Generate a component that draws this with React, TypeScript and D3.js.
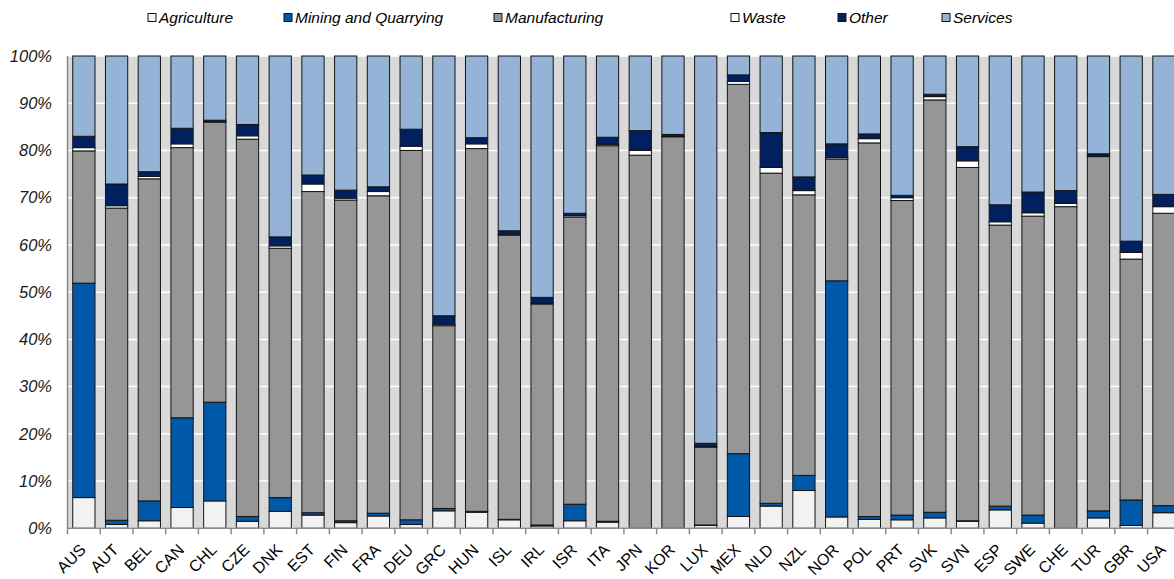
import React from "react";
import * as d3 from "d3";

const countries = ["AUS","AUT","BEL","CAN","CHL","CZE","DNK","EST","FIN","FRA","DEU","GRC","HUN","ISL","IRL","ISR","ITA","JPN","KOR","LUX","MEX","NLD","NZL","NOR","POL","PRT","SVK","SVN","ESP","SWE","CHE","TUR","GBR","USA"];

const agriculture = [6.5,0.8,1.6,4.4,5.8,1.5,3.6,2.8,1.2,2.6,0.8,3.7,3.4,1.8,0.5,1.6,1.3,0,0,0.6,2.5,4.7,8.0,2.4,1.9,1.8,2.2,1.5,3.9,1.1,0,2.2,0.6,3.3];
const mining = [45.4,0.9,4.2,19.0,20.9,1.0,2.9,0.5,0.4,0.6,1.0,0.5,0.2,0.1,0.2,3.5,0.2,0,0,0.1,13.3,0.6,3.2,50.0,0.6,1.0,1.2,0.1,0.8,1.7,0,1.5,5.4,1.5];
const manufacturing = [28.0,66.1,68.2,57.2,59.3,79.9,52.8,68.0,67.9,67.2,78.2,38.7,76.8,60.2,46.8,60.8,79.5,79.0,82.9,16.5,78.2,69.9,59.4,25.8,79.1,66.6,87.3,74.8,59.5,63.3,68.1,75.0,51.0,61.9];
const waste = [0.7,0.5,0.5,0.8,0.1,0.7,0.5,1.6,0.4,0.9,0.9,0.3,1.0,0.1,0.2,0.3,0.3,1.0,0.1,0.1,0.6,1.2,0.9,0.3,0.9,0.6,0.7,1.4,0.7,0.7,0.7,0.1,1.4,1.4];
const other = [2.4,4.6,1.0,3.3,0.3,2.4,1.9,1.9,1.7,1.0,3.6,1.8,1.3,0.8,1.2,0.5,1.5,4.2,0.4,0.7,1.4,7.4,2.9,2.9,1.0,0.5,0.5,3.0,3.6,4.4,2.7,0.5,2.4,2.6];
const services = [17.0,27.1,24.5,15.3,13.6,14.5,38.3,25.2,28.4,27.7,15.5,55.0,17.3,37.0,51.1,33.3,17.2,15.8,16.6,82.0,4.0,16.2,25.6,18.6,16.5,29.5,8.1,19.2,31.5,28.8,28.5,20.7,39.2,29.3];

const seriesNames = ["Agriculture","Mining and Quarrying","Manufacturing","Waste","Other","Services"];
const seriesColors = ["#f2f2f2","#0058a8","#969696","#ffffff","#002060","#95b3d7"];
const yTicks = [0,10,20,30,40,50,60,70,80,90,100];

const W = 1174, H = 579;
const plot = { left: 67.5, right: 1180.3, top: 56, bottom: 528.3 };
const font = "'Liberation Sans', Arial, sans-serif";

export default function App() {
  const x = d3.scaleBand<string>().domain(countries).range([plot.left, plot.right]).paddingInner(0.32).paddingOuter(0.16);
  const y = d3.scaleLinear().domain([0, 100]).range([plot.bottom, plot.top]);

  const rows = countries.map((c, i) => ({
    country: c,
    s0: agriculture[i], s1: mining[i], s2: manufacturing[i], s3: waste[i], s4: other[i], s5: services[i],
  }));
  const keys = ["s0","s1","s2","s3","s4","s5"];
  const stacked = d3.stack<any>().keys(keys)(rows);
  const step = x.step();

  const legendX = [148, 284, 494, 731, 838, 942];

  return (
    <svg width={W} height={H} style={{ position: "absolute", left: 0, top: 0, background: "#fff" }}>
      <rect x={plot.left} y={plot.top} width={W - plot.left} height={plot.bottom - plot.top} fill="#d9d9d9" />
      {yTicks.map((t) => (
        <line key={t} x1={plot.left} x2={W} y1={y(t)} y2={y(t)} stroke="#ffffff" strokeWidth={1.5} />
      ))}
      {stacked.map((layer, li) => (
        <g key={li} fill={seriesColors[li]}>
          {layer.map((d, i) => {
            const h = y(d[0]) - y(d[1]);
            if (h <= 0) return null;
            return (
              <rect key={i} x={x(countries[i])!} width={x.bandwidth()} y={y(d[1])} height={h}
                stroke="#141414" strokeWidth={1} />
            );
          })}
        </g>
      ))}
      {/* axes */}
      <line x1={plot.left} x2={plot.left} y1={plot.top} y2={plot.bottom} stroke="#8c8c8c" strokeWidth={1.5} />
      <line x1={plot.left} x2={W} y1={plot.bottom} y2={plot.bottom} stroke="#8c8c8c" strokeWidth={1.5} />
      {countries.map((c, i) => (
        <line key={c} x1={plot.left + i * step} x2={plot.left + i * step} y1={plot.bottom} y2={plot.bottom + 6} stroke="#8c8c8c" strokeWidth={1.5} />
      ))}
      {yTicks.map((t) => (
        <text key={t} x={52} y={y(t)} dy="0.35em" textAnchor="end" fontFamily={font} fontStyle="italic" fontSize={16.5} fill="#1a1a1a">
          {t}%
        </text>
      ))}
      {countries.map((c) => {
        const cx = x(c)! + x.bandwidth() / 2 + 3;
        const cy = plot.bottom + 22.5;
        return (
          <text key={c} x={cx} y={cy} transform={`rotate(-45 ${cx} ${cy})`} textAnchor="end" fontFamily={font} fontSize={16} fill="#000">
            {c}
          </text>
        );
      })}
      {/* legend */}
      {seriesNames.map((n, i) => (
        <g key={n}>
          <rect x={legendX[i]} y={13.5} width={8} height={8} fill={seriesColors[i]} stroke="#141414" strokeWidth={1} />
          <text x={legendX[i] + 11} y={18} dy="0.35em" fontFamily={font} fontStyle="italic" fontSize={15.5} fill="#000">
            {n}
          </text>
        </g>
      ))}
    </svg>
  );
}
